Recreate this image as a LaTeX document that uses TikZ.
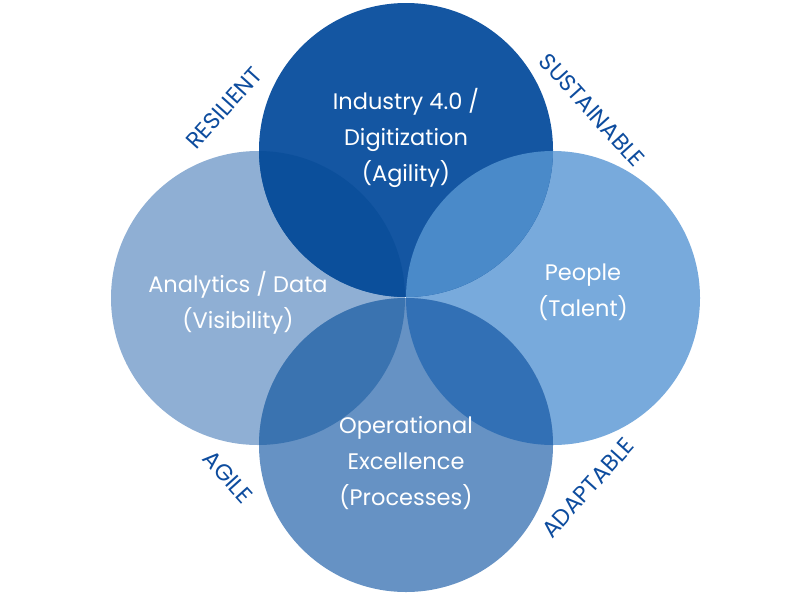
\documentclass[tikz,border=0pt]{standalone}
\usepackage{fontspec}
\setmainfont{Poppins}
\definecolor{cTop}{HTML}{1456A2}
\definecolor{cLeft}{HTML}{8FAFD4}
\definecolor{cRight}{HTML}{78AADC}
\definecolor{cBot}{HTML}{6692C4}
\definecolor{cTL}{HTML}{0B4F9B}
\definecolor{cTR}{HTML}{4A8AC9}
\definecolor{cLB}{HTML}{3A73B0}
\definecolor{cRB}{HTML}{3270B5}
\definecolor{cLab}{HTML}{0D4C9E}
\begin{document}
\begin{tikzpicture}[x=1pt,y=-1pt,
  maintext/.style={text=white,font=\fontsize{22.5}{36}\selectfont,align=center,inner sep=0pt},
  sidelabel/.style={text=cLab,font=\fontsize{23}{24}\selectfont,inner sep=0pt}]
\useasboundingbox (0,0) rectangle (800,600);
\def\R{147}
\coordinate (ct) at (406,150);
\coordinate (cl) at (258,298);
\coordinate (cr) at (553,298);
\coordinate (cb) at (406,445);
\fill[cLeft] (cl) circle (\R);
\fill[cRight] (cr) circle (\R);
\fill[cBot] (cb) circle (\R);
\fill[cTop] (ct) circle (\R);
\begin{scope}\clip (ct) circle (\R); \fill[cTL] (cl) circle (\R); \fill[cTR] (cr) circle (\R);\end{scope}
\begin{scope}\clip (cb) circle (\R); \fill[cLB] (cl) circle (\R); \fill[cRB] (cr) circle (\R);\end{scope}
\node[maintext] (ttop) at (406,138) {Industry 4.0 /\\Digitization\\(Agility)};
\node[maintext] (tleft) at (238,303) {Analytics / Data\\(Visibility)};
\node[maintext] (tright) at (583,292) {People\\(Talent)};
\node[maintext] (tbot) at (406,463) {Operational\\Excellence\\(Processes)};
\node[sidelabel,rotate=48] (lres) at (224,108) {RESILIENT};
\node[sidelabel,rotate=-48] (lsus) at (592,110) {SUSTAINABLE};
\node[sidelabel,rotate=-48] (lagi) at (228,477) {AGILE};
\node[sidelabel,rotate=48] (lada) at (588,488) {ADAPTABLE};
\end{tikzpicture}
\end{document}
